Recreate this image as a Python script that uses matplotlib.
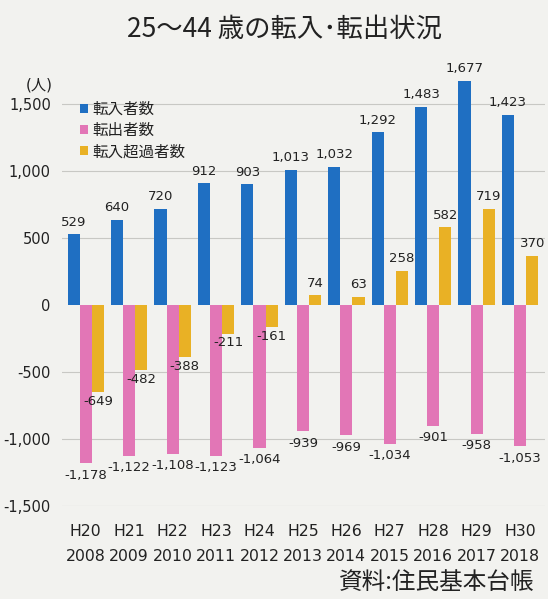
import matplotlib
matplotlib.use("Agg")
import matplotlib.pyplot as plt
import numpy as np

plt.rcParams["font.family"] = ["DejaVu Sans", "Noto Sans CJK JP"]

# data
wareki = ["H20", "H21", "H22", "H23", "H24", "H25", "H26", "H27", "H28", "H29", "H30"]
years = ["2008", "2009", "2010", "2011", "2012", "2013", "2014", "2015", "2016", "2017", "2018"]
tennyu = [529, 640, 720, 912, 903, 1013, 1032, 1292, 1483, 1677, 1423]
tenshutsu = [-1178, -1122, -1108, -1123, -1064, -939, -969, -1034, -901, -958, -1053]
chouka = [-649, -482, -388, -211, -161, 74, 63, 258, 582, 719, 370]

SERIES = ["転入者数", "転出者数", "転入超過者数"]
COLORS = ["#1f6fc2", "#e276b6", "#e9b125"]
BG = "#f2f2ef"
JP = ["Noto Sans CJK JP", "DejaVu Sans"]

fig = plt.figure(figsize=(5.48, 5.99), dpi=100, facecolor=BG)
ax = fig.add_axes([0.113, 0.155, 0.882, 0.72], facecolor=BG)

x = np.arange(len(years))
w = 0.28
vals = [tennyu, tenshutsu, chouka]
for i, (name, v, c) in enumerate(zip(SERIES, vals, COLORS)):
    xs = x + (i - 1) * w
    ax.bar(xs, v, width=w, color=c, label=name, zorder=2)
    for xi, vi in zip(xs, v):
        if vi >= 0:
            ax.annotate(f"{vi:,}", (xi, vi), xytext=(0, 4), textcoords="offset points",
                        ha="center", va="bottom", fontsize=9.5, color="#222222")
        else:
            off = -4 if i == 1 else -2
            ax.annotate(f"{vi:,}", (xi, vi), xytext=(0, off), textcoords="offset points",
                        ha="center", va="top", fontsize=9.5, color="#222222")

ax.set_xlim(-0.55, 10.58)
ax.set_ylim(-1500, 1720)
yt = [-1500, -1000, -500, 0, 500, 1000, 1500]
ax.set_yticks(yt)
ax.set_yticklabels([f"{t:,}" for t in yt], fontsize=10.5, color="#222222")
ax.set_xticks(x)
ax.set_xticklabels([f"{a}\n{b}" for a, b in zip(wareki, years)], fontsize=11.3,
                   color="#222222", linespacing=1.8)
ax.tick_params(axis="x", length=0, pad=13)
ax.tick_params(axis="y", length=0, pad=8)
for t in [-1500, -1000, -500, 500, 1000, 1500]:
    ax.axhline(t, color="#c8c8c4", lw=0.8, zorder=1)
for s in ax.spines.values():
    s.set_visible(False)

leg = ax.legend(loc="upper left", bbox_to_anchor=(0.025, 0.952), frameon=False,
                fontsize=11.2, handlelength=0.5, handleheight=0.5, handletextpad=0.3,
                labelspacing=0.4, borderaxespad=0)
for t in leg.get_texts():
    t.set_color("#222222")

fig.text(0.52, 0.952, "25～44 歳の転入･転出状況", ha="center", va="center",
         fontsize=19, family=JP, color="#222222")
fig.text(0.072, 0.858, "(人)", ha="center", va="center", fontsize=11, color="#222222")
fig.text(0.975, 0.027, "資料:住民基本台帳", ha="right", va="center", fontsize=17,
         family=JP, color="#222222")

fig.savefig("out.png", dpi=100, facecolor=BG)
